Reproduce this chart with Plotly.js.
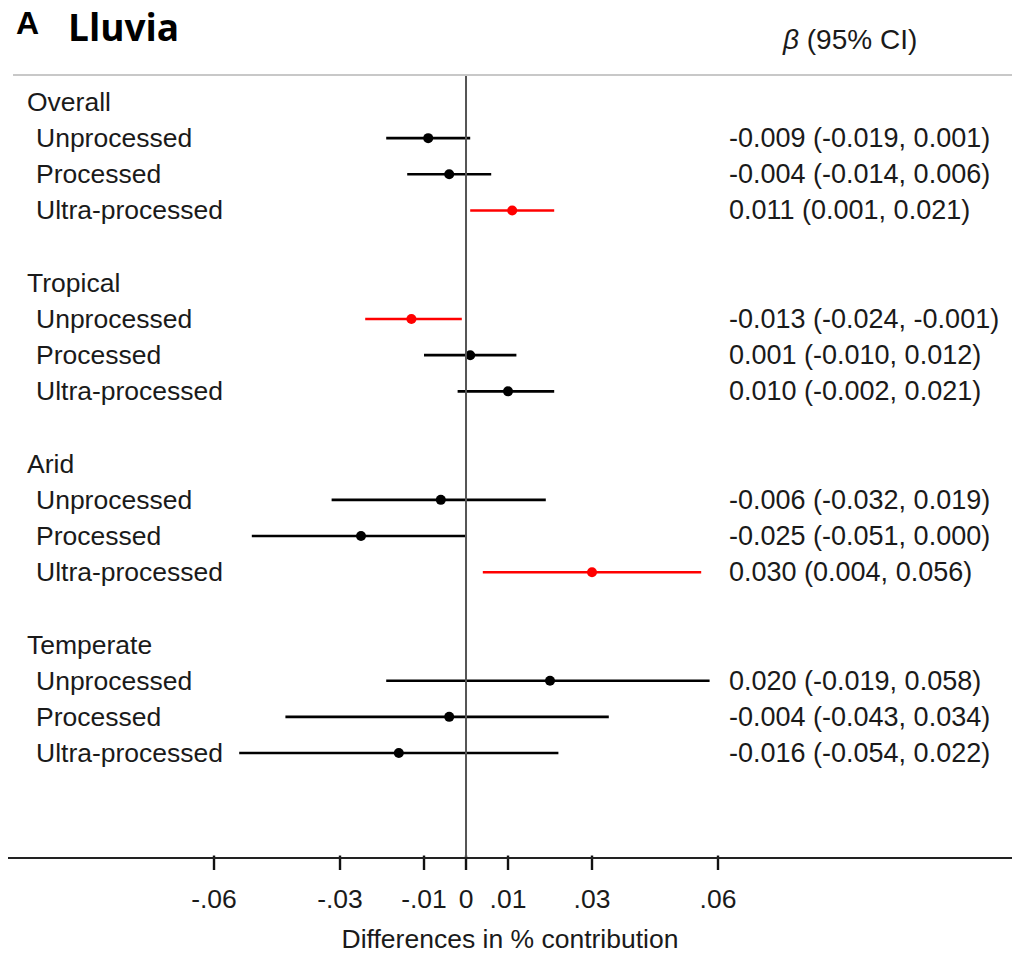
<!DOCTYPE html>
<html>
<head>
<meta charset="utf-8">
<script src="https://cdn.plot.ly/plotly-3.0.1.min.js"></script>
<style>html,body{margin:0;padding:0;background:#fff;}#chart{width:1012px;height:954px;}</style>
</head>
<body>
<div id="chart"></div>
<script>
const groups = ["Overall", "Tropical", "Arid", "Temperate"];
const foodTypes = ["Unprocessed", "Processed", "Ultra-processed"];
const beta   = [-0.009, -0.004, 0.011, -0.013, 0.001, 0.010, -0.006, -0.025, 0.030, 0.020, -0.004, -0.016];
const ciLow  = [-0.019, -0.014, 0.001, -0.024, -0.010, -0.002, -0.032, -0.051, 0.004, -0.019, -0.043, -0.054];
const ciHigh = [0.001, 0.006, 0.021, -0.001, 0.012, 0.021, 0.019, 0.000, 0.056, 0.058, 0.034, 0.022];
const tickVals = [-0.06, -0.03, -0.01, 0, 0.01, 0.03, 0.06];
const tickText = ["-.06", "-.03", "-.01", "0", ".01", ".03", ".06"];

const FONT = "Liberation Sans, Arial, sans-serif";
const FS = 26.5;
const TXT = "#1a1a1a";
const MT = 75, MB = 84;
const PLOT_H = 954 - MT - MB;
const Y_TOP = -0.746, ROW_PX = 36.17;
const Y_BOTTOM = Y_TOP + PLOT_H / ROW_PX;   // plot area reaches down to the tick ends
const AXIS_ROW = 20.9;                      // where the axis line sits
const TICK_LEN = 12;

// rows: each group header then 3 items, then a blank row
const rowOf = [], headerRows = [];
groups.forEach((g, gi) => {
  headerRows.push(gi * 5);
  foodTypes.forEach((f, fi) => rowOf.push(gi * 5 + fi + 1));
});

function mkTrace(sig, color) {
  const xs = [], ys = [], lo = [], hi = [];
  beta.forEach((b, i) => {
    const s = ciHigh[i] < 0 || ciLow[i] > 0;
    if (s === sig) {
      xs.push(b); ys.push(rowOf[i]);
      lo.push(b - ciLow[i]); hi.push(ciHigh[i] - b);
    }
  });
  return {
    type: "scatter", mode: "markers", x: xs, y: ys,
    marker: {color: color, size: 10},
    error_x: {type: "data", symmetric: false, array: hi, arrayminus: lo,
              color: color, thickness: 2.6, width: 0},
    hoverinfo: "x+y", showlegend: false
  };
}

// tick marks: vertical-line markers hanging below the axis line
const tickTrace = {
  type: "scatter", mode: "markers", x: tickVals,
  y: tickVals.map(() => AXIS_ROW + (TICK_LEN / 2) / ROW_PX),
  marker: {symbol: "line-ns-open", size: TICK_LEN, color: "#111", line: {color: "#111", width: 2.4}},
  hoverinfo: "skip", showlegend: false
};

const annotations = [];
groups.forEach((g, gi) => {
  annotations.push({xref: "paper", yref: "y", x: 0.0165, y: headerRows[gi],
    xanchor: "left", yanchor: "middle", text: g, showarrow: false,
    font: {family: FONT, size: FS, color: TXT}});
});
beta.forEach((b, i) => {
  annotations.push({xref: "paper", yref: "y", x: 0.0255, y: rowOf[i],
    xanchor: "left", yanchor: "middle", text: foodTypes[i % 3], showarrow: false,
    font: {family: FONT, size: FS, color: TXT}});
  annotations.push({xref: "paper", yref: "y", x: 0.716, y: rowOf[i],
    xanchor: "left", yanchor: "middle",
    text: b.toFixed(3) + " (" + ciLow[i].toFixed(3) + ", " + ciHigh[i].toFixed(3) + ")",
    showarrow: false, font: {family: FONT, size: FS + 0.5, color: TXT}});
});
annotations.push({xref: "paper", yref: "paper", x: 0.006, y: 1.066, xanchor: "left", yanchor: "middle",
  text: "<b>A</b>", showarrow: false, font: {family: FONT, size: 32, color: "#000"}});
annotations.push({xref: "paper", yref: "paper", x: 0.058, y: 1.061, xanchor: "left", yanchor: "middle",
  text: "<b>Lluvia</b>", showarrow: false, font: {family: "Open Sans, sans-serif", size: 37, color: "#000"}});
annotations.push({xref: "paper", yref: "paper", x: 0.838, y: 1.0443, xanchor: "center", yanchor: "middle",
  text: "<i>β</i> (95% CI)", showarrow: false, font: {family: FONT, size: 28, color: TXT}});

const shapes = [
  // zero reference line
  {type: "line", xref: "x", yref: "y", x0: 0, x1: 0, y0: AXIS_ROW, y1: Y_TOP,
   line: {color: "#555", width: 2}},
  // light top rule
  {type: "line", xref: "paper", yref: "paper", x0: 0.005, x1: 1, y0: 1, y1: 1,
   line: {color: "#c8c8c8", width: 2}},
  // x axis line
  {type: "line", xref: "paper", yref: "y", x0: 0, x1: 1, y0: AXIS_ROW, y1: AXIS_ROW,
   line: {color: "#222", width: 2}}
];

const layout = {
  width: 1012, height: 954,
  margin: {l: 8, r: 0, t: MT, b: MB},
  paper_bgcolor: "#fff", plot_bgcolor: "#fff",
  xaxis: {
    range: [-0.10905, 0.13], tickmode: "array", tickvals: tickVals, ticktext: tickText,
    showgrid: false, zeroline: false, showline: false,
    ticks: "", ticklabelstandoff: 10,
    tickfont: {family: FONT, size: FS, color: TXT},
    title: {text: "Differences in % contribution", standoff: 17,
            font: {family: FONT, size: FS, color: TXT}}
  },
  yaxis: {range: [Y_BOTTOM, Y_TOP], showgrid: false, zeroline: false, showline: false,
          showticklabels: false, ticks: ""},
  shapes: shapes,
  annotations: annotations
};

Plotly.newPlot("chart", [mkTrace(false, "#000"), mkTrace(true, "#ff0000"), tickTrace], layout, {displayModeBar: false});
</script>
</body>
</html>
